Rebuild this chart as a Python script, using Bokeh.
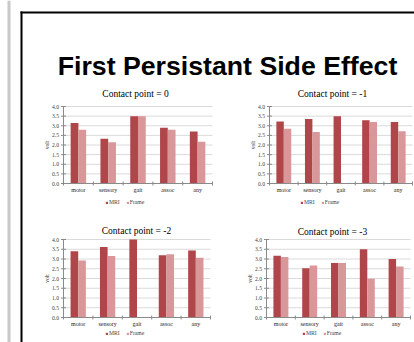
import math
from bokeh.plotting import figure
from bokeh.models import Range1d, Label, Legend, LegendItem, BoxAnnotation, ColumnDataSource
from bokeh.transform import dodge
from bokeh.core.properties import value
from bokeh.embed import file_html
from bokeh.resources import INLINE

# ---------------- data ----------------
main_title = "First Persistant Side Effect"
categories = ["motor", "sensory", "gait", "assoc", "any"]
series_names = ["MRI", "Frame"]
panel_titles = ["Contact point = 0", "Contact point = -1",
                "Contact point = -2", "Contact point = -3"]
mri_cp0 = [3.14, 2.33, 3.50, 2.90, 2.70]
frame_cp0 = [2.79, 2.14, 3.50, 2.79, 2.17]
mri_cp1 = [3.22, 3.35, 3.50, 3.29, 3.20]
frame_cp1 = [2.84, 2.67, float("nan"), 3.20, 2.72]
mri_cp2 = [3.40, 3.62, 4.00, 3.19, 3.43]
frame_cp2 = [2.92, 3.16, float("nan"), 3.24, 3.07]
mri_cp3 = [3.17, 2.52, 2.80, 3.50, 3.00]
frame_cp3 = [3.10, 2.67, 2.80, 1.99, 2.61]
y_ticks = [0.0, 0.5, 1.0, 1.5, 2.0, 2.5, 3.0, 3.5, 4.0]
y_tick_labels = ["0.0", "0.5", "1.0", "1.5", "2.0", "2.5", "3.0", "3.5", "4.0"]
y_label = "volt"
y_min, y_max = 0.0, 4.0

# ---------------- style ----------------
MRI_COLOR = "#b0464a"
FRAME_COLOR = "#d9979a"
AXIS_GRAY = "#8a8a8a"
GRID_GRAY = "#dadada"
SERIF = "Liberation Serif"
SANS = "Liberation Sans"
W, H = 414, 342

p = figure(width=W, height=H, x_range=Range1d(0, W), y_range=Range1d(H, 0),
           x_axis_type=None, y_axis_type=None, toolbar_location=None,
           output_backend="svg", min_border=0, outline_line_color=None)

# slide chrome
p.add_layout(BoxAnnotation(left=7, right=10, top=0, bottom=H, fill_color="#c8c8c8",
                           fill_alpha=1, line_color=None))
p.add_layout(BoxAnnotation(left=20, right=22, top=11, bottom=H, fill_color="black",
                           fill_alpha=1, line_color=None))
p.add_layout(BoxAnnotation(left=20, right=W, top=11, bottom=13, fill_color="black",
                           fill_alpha=1, line_color=None))
p.add_layout(Label(x=227, y=65, text=main_title, text_font=SANS, text_font_style="bold",
                   text_font_size="26.7px", text_align="center",
                   text_baseline="alphabetic", text_color="black"))

# panel layout (page pixels): frame left/right/top/bottom, title centre, legend left/centre-y
panels = [
    dict(title=panel_titles[0], mri=mri_cp0, frame=frame_cp0,
         fl=63, fr=212, ft=106, fb=183, tx=135, ty=93, lx=105, ly=202),
    dict(title=panel_titles[1], mri=mri_cp1, frame=frame_cp1,
         fl=269, fr=412, ft=106, fb=183, tx=332, ty=93, lx=300, ly=202),
    dict(title=panel_titles[2], mri=mri_cp2, frame=frame_cp2,
         fl=63, fr=210, ft=239, fb=317, tx=136, ty=230, lx=105, ly=333),
    dict(title=panel_titles[3], mri=mri_cp3, frame=frame_cp3,
         fl=266, fr=410, ft=239, fb=317, tx=332, ty=231, lx=302, ly=333),
]

n = len(categories)
idx = list(range(n))
bounds = [i - 0.5 for i in range(n + 1)]
x_lo, x_hi = bounds[0], bounds[-1]

for pan in panels:
    sub = p.subplot(x_source=Range1d(x_lo, x_hi), y_source=Range1d(y_min, y_max),
                    x_target=Range1d(pan["fl"], pan["fr"]),
                    y_target=Range1d(pan["fb"], pan["ft"]))
    src = ColumnDataSource(dict(idx=idx, cat=categories, mri=pan["mri"], frame=pan["frame"]))

    # gridlines
    sub.segment(x0=x_lo, x1=x_hi, y0=y_ticks[1:], y1=y_ticks[1:],
                line_color=GRID_GRAY, line_width=1)

    # bars
    r1 = sub.vbar(x=dodge("idx", -0.13), top="mri", bottom=0, width=0.26, source=src,
                  fill_color=MRI_COLOR, line_color=None)
    r2 = sub.vbar(x=dodge("idx", 0.13), top="frame", bottom=0, width=0.26, source=src,
                  fill_color=FRAME_COLOR, line_color=None)

    # axes
    sub.segment(x0=[x_lo, x_lo], y0=[y_min, y_min], x1=[x_lo, x_hi], y1=[y_max, y_min],
                line_color=AXIS_GRAY, line_width=1)
    sub.scatter(x=x_lo, y=y_ticks, marker="dash", size=5, line_color=AXIS_GRAY,
                line_width=1)
    sub.scatter(x=bounds, y=y_min, marker="dash", angle=math.pi / 2, size=4,
                line_color=AXIS_GRAY, line_width=1)

    # tick labels
    sub.text(x=x_lo, y=y_ticks, text=y_tick_labels, x_offset=-4.5,
             text_align="right", text_baseline="middle", text_font=value(SERIF),
             text_font_size="5.6px", text_color="#404040")
    sub.text(x="idx", y=y_min, text="cat", source=src, y_offset=3,
             text_align="center", text_baseline="top", text_font=value(SERIF),
             text_font_size="6px", text_color="#262626")
    sub.text(x=x_lo, y=(y_min + y_max) / 2, text=[y_label], x_offset=-17,
             angle=math.pi / 2, text_align="center", text_baseline="middle",
             text_font=value(SERIF), text_font_size="5.6px", text_color="#262626")

    # title
    p.add_layout(Label(x=pan["tx"], y=pan["ty"], text=pan["title"], text_font=SERIF,
                       text_font_size="9.5px", text_font_style="normal",
                       text_align="center", text_baseline="middle", text_color="black"))

    # legend
    legend = Legend(items=[LegendItem(label=series_names[0], renderers=[r1]),
                           LegendItem(label=series_names[1], renderers=[r2])],
                    orientation="horizontal", location=(pan["lx"], H - pan["ly"] - 3),
                    label_text_font=SERIF, label_text_font_size="5.7px",
                    glyph_width=3, glyph_height=3, label_standoff=1, spacing=6,
                    padding=0, margin=0, label_height=6, label_width=8,
                    border_line_color=None, background_fill_alpha=0)
    p.add_layout(legend)

open("out.html", "w").write(file_html(p, INLINE))
